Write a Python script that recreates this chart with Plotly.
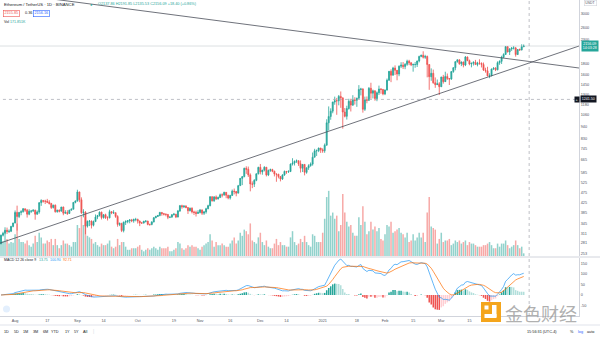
import math
import pandas as pd
import plotly.graph_objects as go

# ---------------- data (ETH/USDT daily, Binance) ----------------
START_DATE = "2020-07-25"
FIRST_OPEN = 279.0

close_jul = [305, 311, 321, 317, 318, 334, 346]
high_jul = [307, 316, 331, 330, 324, 336, 347]
low_jul = [278, 301, 307, 309, 312, 315, 331]
vol_jul = [900, 950, 1400, 1100, 800, 900, 850]

close_aug = [386, 370, 386, 389, 401, 395, 379, 391, 391, 395, 379, 388, 427, 437, 433, 433, 429, 423, 406, 416,
             389, 395, 391, 408, 383, 386, 382, 395, 399, 428, 434]
high_aug = [394, 414, 388, 395, 404, 401, 400, 399, 396, 399, 397, 394, 429, 442, 437, 440, 444, 438, 426, 418,
            419, 397, 398, 409, 410, 395, 395, 397, 402, 430, 437]
low_aug = [345, 320, 364, 375, 385, 388, 366, 375, 384, 390, 358, 377, 381, 413, 427, 421, 425, 419, 400, 402,
           385, 385, 386, 390, 375, 380, 376, 380, 394, 399, 424]
vol_aug = [1400, 2100, 1100, 900, 900, 800, 1000, 700, 600, 800, 1300, 900, 1500, 1200, 800, 800, 1000, 900, 1100, 700,
           1100, 700, 500, 700, 1000, 800, 800, 700, 600, 900, 900]

close_sep = [477, 440, 385, 387, 335, 352, 353, 338, 351, 368, 374, 387, 366, 377, 365, 365, 389, 384, 385, 370,
             341, 344, 320, 349, 351, 354, 357, 354, 359, 359]
high_sep = [488, 478, 451, 399, 391, 355, 357, 355, 355, 378, 376, 390, 389, 379, 381, 371, 397, 391, 395, 385,
            375, 348, 347, 351, 356, 357, 360, 361, 362, 365]
low_sep = [432, 429, 380, 367, 308, 330, 335, 327, 334, 351, 360, 370, 359, 362, 361, 355, 363, 379, 380, 365,
           333, 335, 315, 314, 339, 345, 345, 349, 347, 352]
vol_sep = [2000, 1800, 2600, 2000, 2500, 1300, 1200, 1100, 800, 900, 700, 600, 800, 700, 700, 800, 1000, 600, 500, 600,
           1100, 700, 900, 900, 600, 400, 400, 500, 500, 500]

close_oct = [353, 346, 346, 352, 353, 341, 341, 350, 365, 370, 374, 386, 381, 379, 378, 367, 368, 377, 379, 368,
             392, 414, 409, 412, 406, 393, 403, 388, 386, 382, 386]
high_oct = [362, 355, 350, 354, 356, 354, 343, 352, 368, 373, 376, 388, 387, 384, 382, 380, 370, 379, 384, 380,
            396, 417, 418, 416, 416, 405, 406, 407, 393, 393, 395]
low_oct = [344, 335, 343, 344, 348, 338, 336, 338, 348, 364, 369, 371, 373, 374, 371, 360, 364, 365, 374, 364,
           367, 388, 401, 404, 403, 380, 390, 382, 376, 370, 380]
vol_oct = [600, 700, 400, 300, 400, 500, 400, 500, 600, 500, 400, 600, 500, 500, 500, 600, 300, 300, 400, 500,
           900, 800, 500, 400, 500, 700, 600, 700, 600, 600, 500]

close_nov = [396, 383, 388, 401, 414, 454, 435, 453, 444, 450, 463, 462, 475, 461, 448, 460, 481, 479, 471, 509,
             549, 559, 609, 603, 569, 518, 517, 538, 575, 615]
high_nov = [400, 398, 392, 405, 418, 456, 456, 457, 460, 455, 469, 470, 478, 476, 463, 463, 489, 494, 482, 513,
            551, 560, 613, 622, 620, 578, 532, 544, 578, 619]
low_nov = [382, 376, 376, 381, 399, 411, 432, 431, 439, 441, 449, 451, 459, 447, 442, 441, 458, 465, 456, 471,
           509, 512, 555, 575, 557, 480, 496, 502, 533, 572]
vol_nov = [400, 600, 700, 800, 900, 1400, 1000, 600, 900, 700, 700, 800, 700, 600, 600, 800, 1000, 1200, 800, 1000,
           1500, 1300, 1700, 1600, 1400, 2100, 1000, 900, 800, 1200]

close_dec = [587, 598, 616, 569, 596, 601, 591, 574, 573, 560, 545, 568, 590, 586, 589, 636, 643, 655, 659, 638,
             609, 634, 584, 612, 626, 636, 683, 730, 731, 751, 737]
high_dec = [637, 599, 622, 617, 601, 607, 606, 594, 577, 575, 561, 573, 595, 592, 597, 640, 676, 660, 667, 659,
            661, 636, 637, 614, 635, 647, 717, 745, 740, 754, 752]
low_dec = [572, 570, 590, 560, 562, 587, 585, 560, 530, 549, 532, 540, 564, 575, 581, 586, 627, 627, 644, 624,
           583, 586, 566, 576, 599, 619, 626, 683, 692, 720, 714]
vol_dec = [1500, 900, 700, 1000, 600, 500, 500, 800, 1100, 700, 900, 700, 700, 600, 600, 1200, 1600, 900, 700, 800,
           1100, 900, 1300, 900, 700, 600, 1400, 1300, 900, 900, 900]

close_jan = [730, 774, 975, 1041, 1100, 1208, 1225, 1224, 1281, 1262, 1090, 1043, 1130, 1218, 1171, 1233, 1230, 1257,
             1377, 1382, 1121, 1236, 1231, 1392, 1324, 1357, 1253, 1331, 1382, 1377, 1314]
high_jan = [749, 787, 1011, 1155, 1132, 1212, 1278, 1261, 1300, 1348, 1264, 1136, 1163, 1250, 1250, 1297, 1270, 1264,
            1439, 1400, 1394, 1278, 1280, 1412, 1475, 1374, 1361, 1348, 1432, 1394, 1381]
low_jan = [715, 715, 770, 900, 1006, 1076, 1175, 1059, 1168, 1138, 918, 1031, 1008, 1117, 1096, 1160, 1177, 1150,
           1251, 1294, 1083, 1102, 1193, 1221, 1250, 1255, 1225, 1219, 1300, 1316, 1296]
vol_jan = [1500, 2400, 3800, 4200, 2600, 2800, 2400, 2600, 1600, 2000, 4000, 2800, 2200, 1900, 2000, 1500, 1300, 1300,
           2500, 2000, 3200, 2200, 1400, 1600, 2200, 1700, 1900, 1600, 1800, 1100, 1000]

close_feb = [1369, 1515, 1660, 1594, 1718, 1677, 1614, 1750, 1769, 1743, 1784, 1843, 1813, 1776, 1781, 1781, 1848,
             1937, 1960, 1919, 1935, 1781, 1570, 1626, 1475, 1446, 1459, 1416]
high_feb = [1374, 1541, 1662, 1695, 1739, 1765, 1659, 1765, 1824, 1827, 1806, 1872, 1870, 1825, 1800, 1826, 1852,
            1950, 1970, 2042, 1969, 1954, 1783, 1711, 1690, 1558, 1525, 1485]
low_feb = [1298, 1359, 1505, 1484, 1592, 1598, 1513, 1578, 1717, 1700, 1697, 1758, 1770, 1752, 1654, 1722, 1736,
           1820, 1921, 1895, 1888, 1560, 1371, 1505, 1460, 1400, 1441, 1300]
vol_feb = [1400, 2000, 1900, 2200, 1500, 1600, 1700, 1800, 1500, 1400, 1200, 1500, 900, 1000, 1400, 1000, 1200,
           1500, 1200, 1500, 900, 2800, 3800, 1900, 1800, 1700, 800, 1100]

close_mar = [1564, 1492, 1575, 1541, 1533, 1655, 1723, 1835, 1869, 1795, 1826, 1772, 1924, 1854, 1791, 1806, 1823,
             1780, 1810, 1806, 1782, 1681, 1669, 1583, 1588, 1700, 1714, 1687, 1816, 1840, 1919]
high_mar = [1570, 1600, 1653, 1623, 1549, 1664, 1732, 1840, 1878, 1877, 1840, 1837, 1944, 1935, 1874, 1810, 1837,
            1868, 1832, 1880, 1818, 1818, 1723, 1740, 1627, 1707, 1733, 1733, 1841, 1860, 1950]
low_mar = [1411, 1462, 1487, 1519, 1441, 1520, 1636, 1678, 1815, 1776, 1752, 1729, 1752, 1844, 1767, 1730, 1763,
           1779, 1748, 1776, 1728, 1667, 1637, 1578, 1546, 1575, 1685, 1664, 1677, 1776, 1791]
vol_mar = [1500, 900, 1000, 1000, 1100, 700, 800, 1000, 900, 1000, 800, 900, 1000, 700, 900, 800, 800, 700, 600, 600,
           600, 700, 700, 800, 900, 700, 500, 500, 800, 600, 800]

close_apr = [1977, 2143, 2027, 2090, 2110, 2113, 1974, 2080, 2072, 2138, 2156.09]
high_apr = [2000, 2150, 2145, 2110, 2135, 2153, 2136, 2090, 2101, 2196, 2191.85]
low_apr = [1903, 1970, 2019, 1965, 2050, 2080, 1932, 1966, 2050, 2060, 2135.53]
vol_apr = [800, 1000, 700, 500, 600, 700, 1000, 700, 500, 600, 172]

closes = (close_jul + close_aug + close_sep + close_oct + close_nov + close_dec + close_jan + close_feb
          + close_mar + close_apr)
highs = (high_jul + high_aug + high_sep + high_oct + high_nov + high_dec + high_jan + high_feb
         + high_mar + high_apr)
lows = (low_jul + low_aug + low_sep + low_oct + low_nov + low_dec + low_jan + low_feb + low_mar + low_apr)
volumes_k = (vol_jul + vol_aug + vol_sep + vol_oct + vol_nov + vol_dec + vol_jan + vol_feb + vol_mar + vol_apr)
opens = [FIRST_OPEN] + closes[:-1]   # 24/7 market: daily open = previous close

dates = pd.date_range(START_DATE, periods=len(closes), freq="D")

# trend lines (endpoints) and reference levels
desc_line_dates = ["2020-07-24 12:00", "2021-05-08 12:00"]
desc_line_prices = [3764, 1718]
asc_line_dates = ["2020-07-24 12:00", "2021-05-08 12:00"]
asc_line_prices = [281, 2156]
last_price = 2156.09
cross_price = 1241.5
cross_date = "2021-04-13 17:00"

price_ticks = [3000, 2600, 2300, 1800, 1600, 1450, 1300, 1180, 1060, 940, 830, 745, 665, 585, 525, 475, 425,
               385, 345, 311, 281, 253]
macd_ticks = [150, 100, 50, 0, -50]
x_tick_dates = ["2020-08-01", "2020-08-17", "2020-09-01", "2020-09-14", "2020-10-01", "2020-10-19",
                "2020-11-01", "2020-11-16", "2020-12-01", "2020-12-14", "2021-01-01", "2021-01-18",
                "2021-02-01", "2021-02-15", "2021-03-01", "2021-03-15"]
x_tick_text = ["Aug", "17", "Sep", "14", "Oct", "19", "Nov", "16", "Dec", "14", "2021", "18", "Feb", "15",
               "Mar", "15"]

# ---------------- styling ----------------
UP = "#26a69a"
DN = "#ef5350"
FONT = "Liberation Sans, Arial, sans-serif"
TXT = "#131722"
AX = "#50535e"

W, H = 600, 337
ML, MR, MT, MB = 0, 21, 0, 21
PW = W - ML - MR
PH = H - MT - MB


def px(x):
    return (x - ML) / PW


def py(y):
    return (PH - (y - MT)) / PH


PRICE_TOP, PRICE_BOT = 0, 256
MACD_TOP, MACD_BOT = 258, 316

# ---------------- indicators ----------------
s = pd.Series(closes, dtype=float)
ema12 = s.ewm(span=12, adjust=False).mean()
ema26 = s.ewm(span=26, adjust=False).mean()
macd = ema12 - ema26
signal = macd.ewm(span=9, adjust=False).mean()
hist = macd - signal

hist_colors = []
prev = 0.0
for h in hist:
    if h >= 0:
        hist_colors.append("#26a69a" if h > prev else "#b2dfdb")
    else:
        hist_colors.append("#ffcdd2" if h > prev else "#ef5350")
    prev = h

vol_colors = ["rgba(38,166,154,0.5)" if c >= o else "rgba(239,83,80,0.5)" for o, c in zip(opens, closes)]

fig = go.Figure()

# volume (base axis of the price pane)
fig.add_trace(go.Bar(x=dates, y=volumes_k, marker=dict(color=vol_colors, line=dict(width=0)),
                     xaxis="x", yaxis="y", hoverinfo="skip"))

# candles (overlay log axis)
fig.add_trace(go.Candlestick(
    x=dates, open=opens, high=highs, low=lows, close=closes,
    increasing=dict(line=dict(color=UP, width=0.8), fillcolor=UP),
    decreasing=dict(line=dict(color=DN, width=0.8), fillcolor=DN),
    xaxis="x", yaxis="y3", hoverinfo="skip"))

# trend lines
fig.add_trace(go.Scatter(x=desc_line_dates, y=desc_line_prices, mode="lines",
                         line=dict(color="#4a4e59", width=0.8), xaxis="x", yaxis="y3", hoverinfo="skip"))
fig.add_trace(go.Scatter(x=asc_line_dates, y=asc_line_prices, mode="lines",
                         line=dict(color="#4a4e59", width=0.8), xaxis="x", yaxis="y3", hoverinfo="skip"))

# last price line & crosshair horizontal
span_dates = ["2020-07-20", "2021-05-12"]
fig.add_trace(go.Scatter(x=span_dates, y=[last_price, last_price], mode="lines",
                         line=dict(color="rgba(160,170,175,0.45)", width=0.8),
                         xaxis="x", yaxis="y3", hoverinfo="skip"))
fig.add_trace(go.Scatter(x=span_dates, y=[cross_price, cross_price], mode="lines",
                         line=dict(color="#a3a6af", width=0.7, dash="dot"),
                         xaxis="x", yaxis="y3", hoverinfo="skip"))

# MACD pane
fig.add_trace(go.Bar(x=dates, y=hist, marker=dict(color=hist_colors, line=dict(width=0)),
                     xaxis="x", yaxis="y2", hoverinfo="skip"))
fig.add_trace(go.Scatter(x=dates, y=macd, mode="lines", line=dict(color="#2196f3", width=0.7),
                         xaxis="x", yaxis="y2", hoverinfo="skip"))
fig.add_trace(go.Scatter(x=dates, y=signal, mode="lines", line=dict(color="#ff6d00", width=0.7),
                         xaxis="x", yaxis="y2", hoverinfo="skip"))

price_dom = [py(PRICE_BOT), py(PRICE_TOP)]
macd_dom = [py(MACD_BOT), py(MACD_TOP)]

fig.update_layout(
    width=W, height=H, margin=dict(l=ML, r=MR, t=MT, b=MB),
    paper_bgcolor="white", plot_bgcolor="white", showlegend=False,
    bargap=0.25, barmode="overlay",
    font=dict(family=FONT, size=4, color=TXT),
    xaxis=dict(type="date", range=["2020-07-24 12:00", "2021-05-08 12:00"], anchor="y2",
               tickmode="array", tickvals=x_tick_dates, ticktext=x_tick_text,
               showgrid=False, zeroline=False, showline=True, linecolor="#d1d4dc", linewidth=1,
               ticks="", tickfont=dict(size=3.8, color=AX, family=FONT),
               rangeslider=dict(visible=False), fixedrange=True),
    yaxis=dict(domain=price_dom, range=[0, 16500], visible=False, fixedrange=True, anchor="x"),
    yaxis3=dict(type="log", overlaying="y", side="right", anchor="x",
                range=[math.log10(246), math.log10(3470)],
                tickmode="array", tickvals=price_ticks, ticktext=[str(v) for v in price_ticks],
                showgrid=False, zeroline=False, showline=True, linecolor="#d1d4dc", linewidth=1,
                ticks="", tickfont=dict(size=3.8, color=AX, family=FONT), fixedrange=True),
    yaxis2=dict(domain=macd_dom, range=[-100, 176], side="right", anchor="x",
                tickmode="array", tickvals=macd_ticks, ticktext=[str(v) for v in macd_ticks],
                showgrid=False, zeroline=False, showline=True, linecolor="#d1d4dc", linewidth=1,
                ticks="", tickfont=dict(size=3.8, color=AX, family=FONT), fixedrange=True),
)

shapes = [
    # pane separator
    dict(type="line", xref="paper", yref="paper", x0=0, x1=px(600), y0=py(257), y1=py(257),
         line=dict(color="#d1d4dc", width=1)),
    # crosshair vertical
    dict(type="line", xref="x", yref="paper", x0=cross_date, x1=cross_date, y0=0, y1=1,
         line=dict(color="#a3a6af", width=0.7, dash="dot")),
    # toolbar separator
    dict(type="line", xref="paper", yref="paper", x0=0, x1=px(600), y0=py(325), y1=py(325),
         line=dict(color="#e0e3eb", width=1)),
    # cloud icon
    dict(type="circle", xref="paper", yref="paper", x0=px(3), x1=px(10), y0=py(312.5), y1=py(305.5),
         fillcolor="#e3effd", line=dict(width=0)),
    # watermark icon
    dict(type="rect", xref="paper", yref="paper", x0=px(481), x1=px(501), y0=py(322), y1=py(302),
         fillcolor="#f4a51c", line=dict(width=0), layer="above"),
    dict(type="rect", xref="paper", yref="paper", x0=px(492), x1=px(496.5), y0=py(317), y1=py(305),
         fillcolor="white", line=dict(width=0), layer="above"),
    dict(type="rect", xref="paper", yref="paper", x0=px(484.5), x1=px(496.5), y0=py(318), y1=py(314),
         fillcolor="white", line=dict(width=0), layer="above"),
    dict(type="rect", xref="paper", yref="paper", x0=px(484.5), x1=px(488.5), y0=py(309.5), y1=py(305.5),
         fillcolor="white", line=dict(width=0), layer="above"),
]
fig.update_layout(shapes=shapes)


def ann(text, x, y, size=4, color=TXT, xanchor="left", **kw):
    d = dict(text=text, x=px(x), y=py(y), xref="paper", yref="paper", showarrow=False,
             xanchor=xanchor, yanchor="middle", font=dict(size=size, color=color, family=FONT))
    d.update(kw)
    return d


annotations = [
    ann("Ethereum / TetherUS · 1D · BINANCE", 2, 4.5, size=4.2),
    ann("●", 88, 4.5, size=4, color=UP),
    ann("O2137.86 H2191.85 L2135.53 C2156.09 +18.40 (+0.86%)", 96, 4.5, size=3.8, color=UP),
    ann("2155.85", 3, 13, size=3.8, color=DN, bordercolor=DN, borderwidth=0.6, borderpad=0.8),
    ann("0.36", 23, 13, size=3.8, color=TXT),
    ann("2156.16", 33, 13, size=3.8, color="#2962ff", bordercolor="#2962ff", borderwidth=0.6, borderpad=0.8),
    ann("Vol", 2, 21.5, size=3.6, color=TXT),
    ann("171.851K", 8, 21.5, size=3.6, color=UP),
    ann("MACD 12 26 close 9", 2, 260, size=3.5, color=TXT),
    ann("13.75", 37, 260, size=3.5, color=UP),
    ann("100.90", 48, 260, size=3.5, color="#2196f3"),
    ann("92.71", 61, 260, size=3.5, color="#ff6d00"),
    # right scale labels
    ann("USDT", 584, 3.5, size=3.5, color=AX, bordercolor="#d1d4dc", borderwidth=0.6, borderpad=0.6),
    ann("2156.09<br>14:03:28", 581, 46, size=3.6, color="white", bgcolor=UP, borderpad=0.8),
    ann("+", 574, 99, size=3.8, color="white", bgcolor="#131722", borderpad=0.6),
    ann("1241.50", 580, 99, size=3.6, color="white", bgcolor="#131722", borderpad=0.8),
    # bottom toolbar
    ann("1D", 6, 331.5, size=3.8, xanchor="center"),
    ann("5D", 16, 331.5, size=3.8, xanchor="center"),
    ann("1M", 25, 331.5, size=3.8, xanchor="center"),
    ann("3M", 35, 331.5, size=3.8, xanchor="center"),
    ann("6M", 45, 331.5, size=3.8, xanchor="center"),
    ann("YTD", 55, 331.5, size=3.8, xanchor="center"),
    ann("1Y", 67, 331.5, size=3.8, xanchor="center"),
    ann("5Y", 76, 331.5, size=3.8, xanchor="center"),
    ann("All", 85, 331.5, size=3.8, xanchor="center"),
    ann("|", 93, 331.5, size=4.5, color="#d1d4dc", xanchor="center"),
    ann("15:56:31 (UTC-4)", 542, 331.5, size=3.8, xanchor="center"),
    ann("%", 572, 331.5, size=3.8, xanchor="center"),
    ann("log", 580, 331.5, size=3.8, color="#2962ff", xanchor="center"),
    ann("auto", 590, 331.5, size=3.8, xanchor="center"),
    # watermark
    ann("金色财经", 541, 312.5, size=18, color="rgba(150,150,150,0.75)", xanchor="center",
        font=dict(size=18, color="rgba(150,150,150,0.75)", family="Noto Sans CJK SC")),
]
fig.update_layout(annotations=annotations)

fig.write_html("out.html", config={"displayModeBar": False, "staticPlot": True})
